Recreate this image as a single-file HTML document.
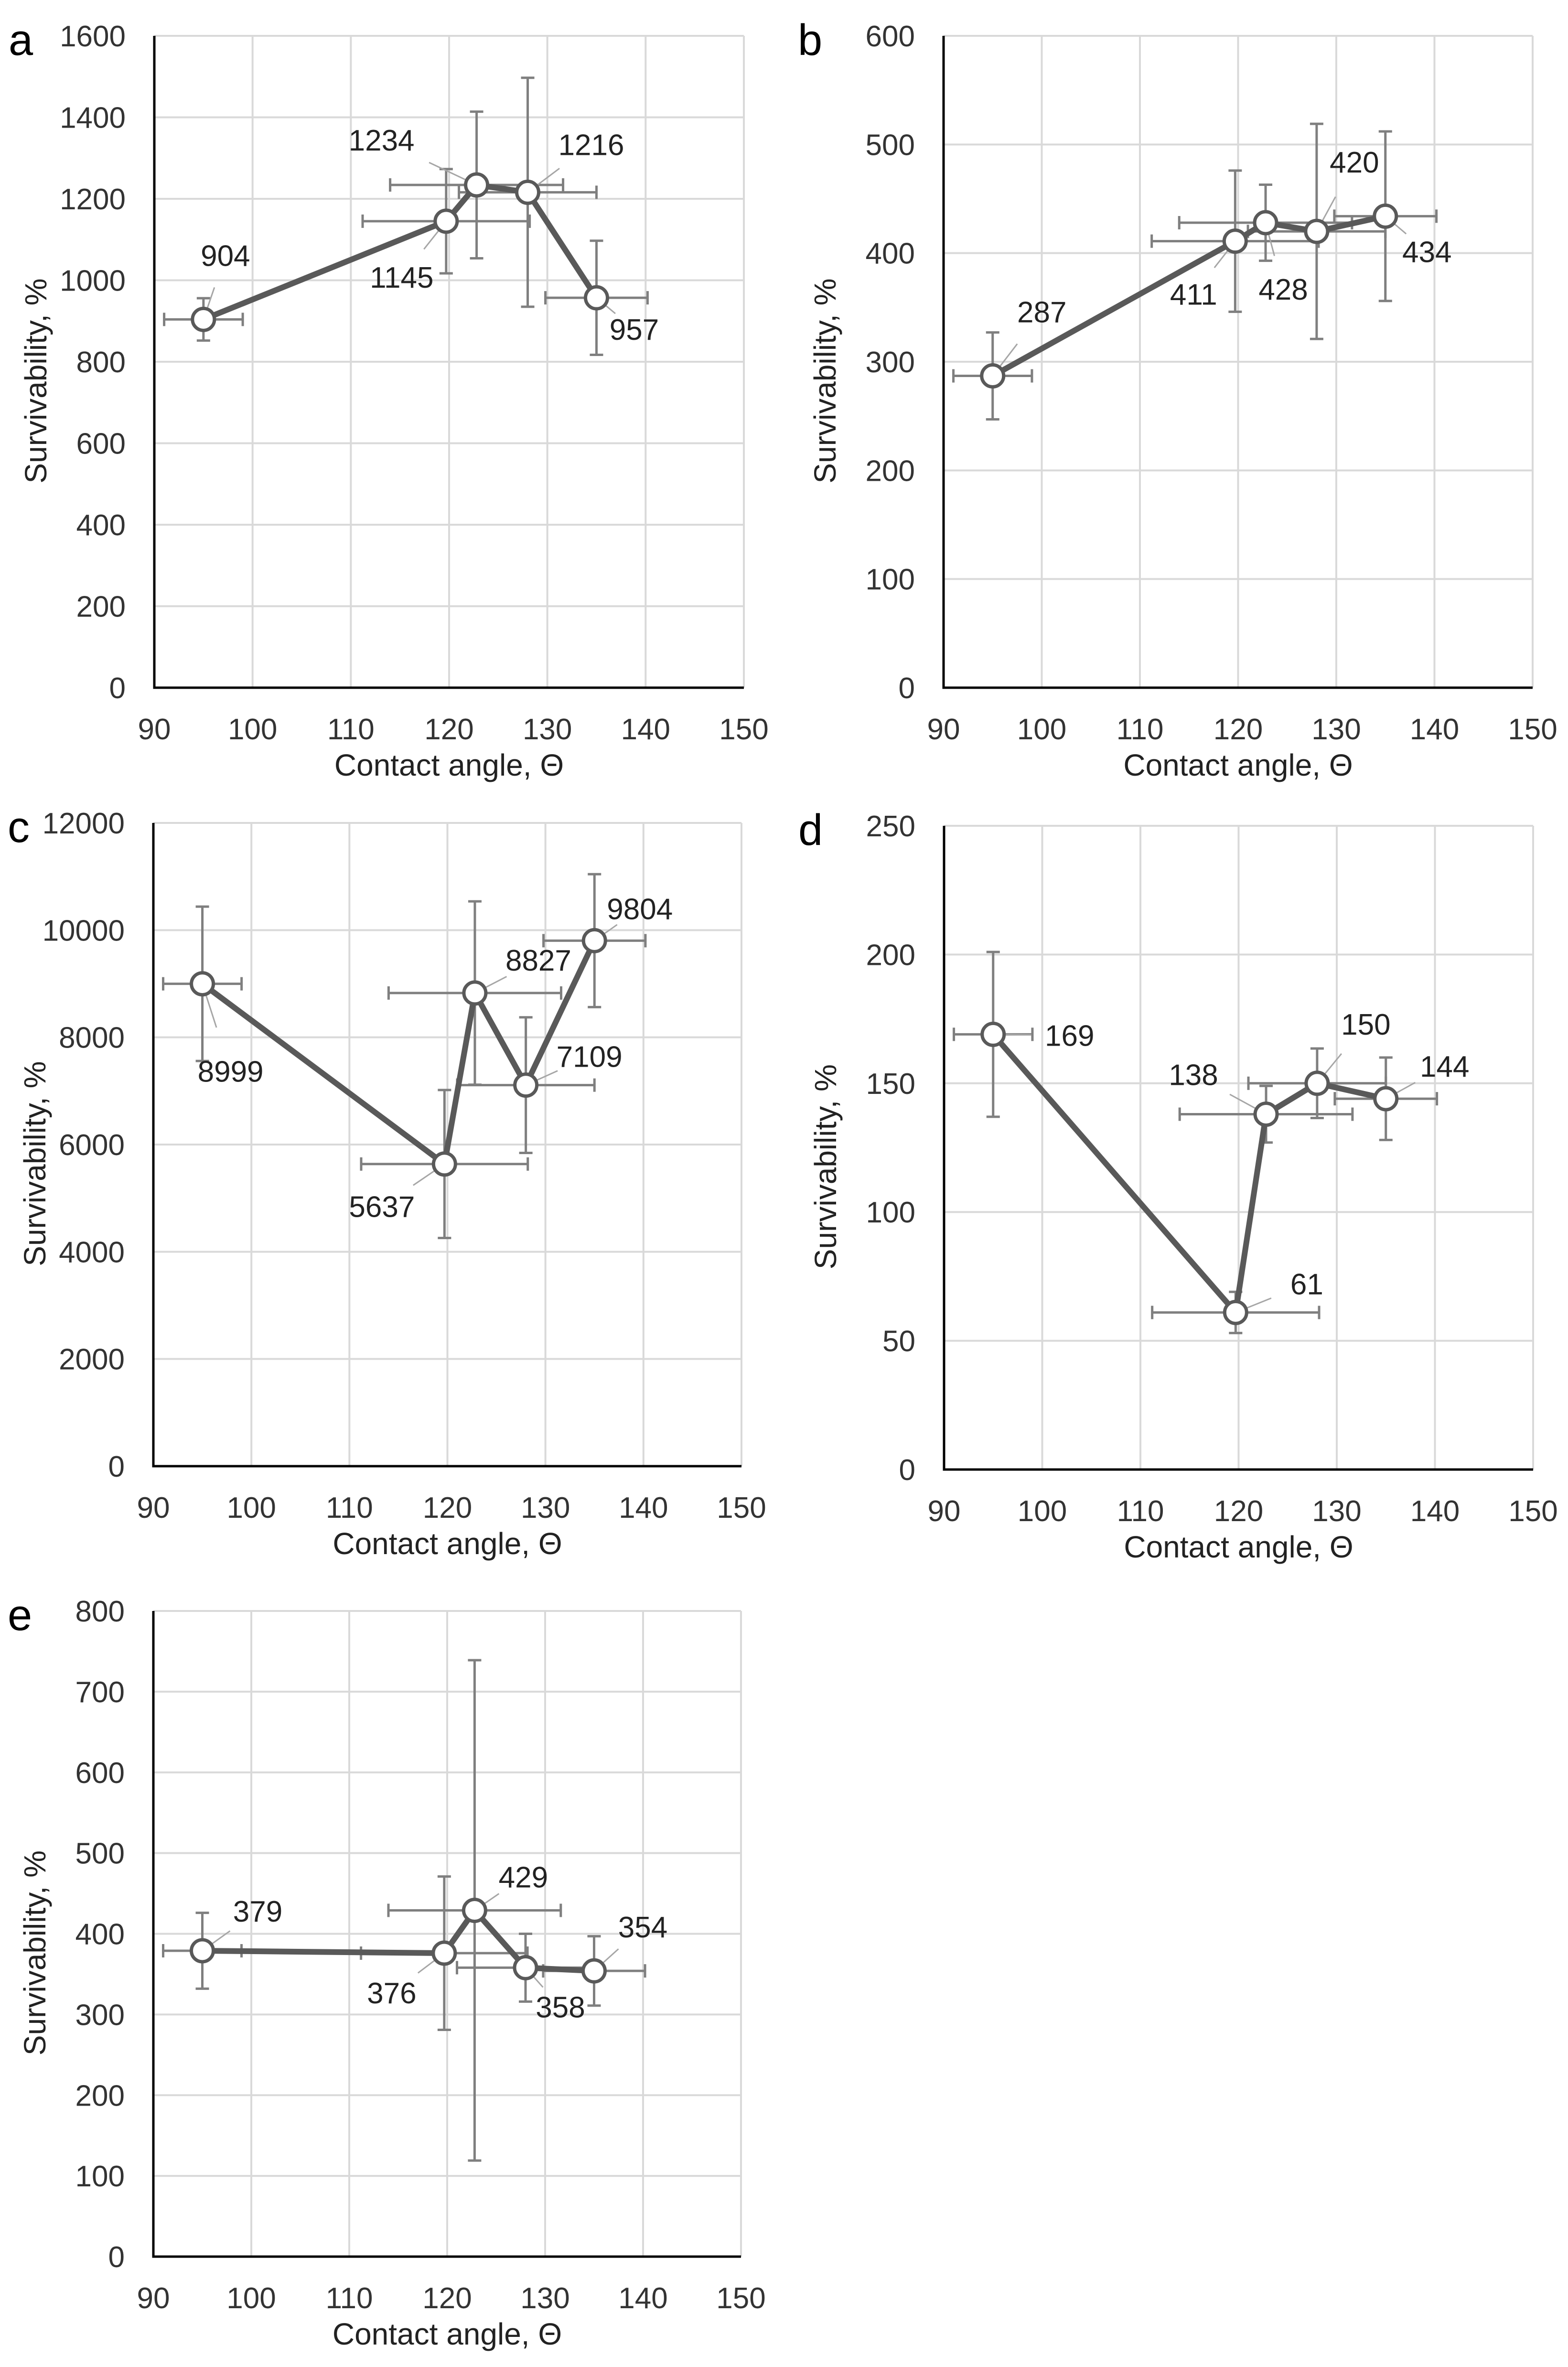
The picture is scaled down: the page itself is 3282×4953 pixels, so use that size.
<!DOCTYPE html>
<html><head><meta charset="utf-8"><style>
html,body{margin:0;padding:0;background:#fff;}
svg{display:block;font-family:"Liberation Sans",Calibri,sans-serif;}
</style></head><body>
<svg id="fig" width="3282" height="4953" viewBox="0 0 3282 4953" xmlns="http://www.w3.org/2000/svg"></svg>
<script>
// shared contact angle categories and horizontal errors
const angles = [95, 119.7, 122.8, 128, 135];
const angleErr = [4, 8.5, 8.8, 7, 5.2];
const xTicks = [90, 100, 110, 120, 130, 140, 150];

// panel a
const aValues = [904, 1145, 1234, 1216, 957];
const aErr = [52, 128, 180, 281, 140];
const aLabels = ["904", "1145", "1234", "1216", "957"];
const aTicks = [0, 200, 400, 600, 800, 1000, 1200, 1400, 1600];
// panel b
const bValues = [287, 411, 428, 420, 434];
const bErr = [40, 65, 35, 99, 78];
const bLabels = ["287", "411", "428", "420", "434"];
const bTicks = [0, 100, 200, 300, 400, 500, 600];
// panel c
const cValues = [8999, 5637, 8827, 7109, 9804];
const cErr = [1440, 1380, 1710, 1265, 1240];
const cLabels = ["8999", "5637", "8827", "7109", "9804"];
const cTicks = [0, 2000, 4000, 6000, 8000, 10000, 12000];
// panel d
const dValues = [169, 61, 138, 150, 144];
const dErr = [32, 8, 11, 13.5, 16];
const dLabels = ["169", "61", "138", "150", "144"];
const dTicks = [0, 50, 100, 150, 200, 250];
// panel e
const eValues = [379, 376, 429, 358, 354];
const eErr = [47, 95, 310, 42, 43];
const eLabels = ["379", "376", "429", "358", "354"];
const eTicks = [0, 100, 200, 300, 400, 500, 600, 700, 800];

// layout (pixel geometry, not data)
const panels = [
  {id:"a", vals:aValues, err:aErr, labels:aLabels, ticks:aTicks, box:[323,75,1557,1439],
   off:[[46,-134],[-93,117],[-199,-94],[133,-100],[79,66]]},
  {id:"b", vals:bValues, err:bErr, labels:bLabels, ticks:bTicks, box:[1975,75,3208,1439],
   off:[[103,-134],[-87,111],[37,139],[79,-145],[87,74]]},
  {id:"c", vals:cValues, err:cErr, labels:cLabels, ticks:cTicks, box:[321,1722,1552,3068],
   off:[[59,183],[-131,89],[133,-69],[133,-60],[95,-67]]},
  {id:"d", vals:dValues, err:dErr, labels:dLabels, ticks:dTicks, box:[1976,1728,3209,3075],
   off:[[160,2],[149,-60],[-152,-83],[102,-124],[123,-68]]},
  {id:"e", vals:eValues, err:eErr, labels:eLabels, ticks:eTicks, box:[321,3371,1551,4722],
   off:[[116,-83],[-110,83],[102,-70],[73,82],[102,-92]]}
];

const NS = "http://www.w3.org/2000/svg";
const svg = document.getElementById("fig");
function mk(tag, attrs, parent){
  const el = document.createElementNS(NS, tag);
  for (const k in attrs) el.setAttribute(k, attrs[k]);
  parent.appendChild(el);
  return el;
}

panels.forEach(p => {
  const [L, T, R, B] = p.box;
  const yMax = p.ticks[p.ticks.length - 1];
  const xs = v => L + (v - 90) / 60 * (R - L);
  const ys = v => B - v / yMax * (B - T);

  const g = mk("g", {}, svg);
  
  

  xTicks.forEach(t => {
    if (t === 90) return;
    const l = mk("line", {x1:xs(t), x2:xs(t), y1:T, y2:B, stroke:"#d9d9d9", "stroke-width":4}, g);
    
    
  });
  p.ticks.forEach(t => {
    if (t === 0) return;
    const l = mk("line", {x1:L, x2:R, y1:ys(t), y2:ys(t), stroke:"#d9d9d9", "stroke-width":4}, g);
    
    
  });
  const ax = mk("path", {d:`M${L},${T} L${L},${B} L${R},${B}`, fill:"none", stroke:"#000", "stroke-width":5}, g);
  
  

  xTicks.forEach(t => {
    const tx = mk("text", {x:xs(t), y:B+108, "text-anchor":"middle", "font-size":62, fill:"#333"}, g);
    tx.textContent = t;
    
    
  });
  p.ticks.forEach(t => {
    const tx = mk("text", {x:L-60, y:ys(t)+22, "text-anchor":"end", "font-size":62, fill:"#333"}, g);
    tx.textContent = t;
    
    
  });
  const xt = mk("text", {x:(L+R)/2, y:B+184, "text-anchor":"middle", "font-size":64, fill:"#222"}, g);
  xt.textContent = "Contact angle, Θ";
  
  
  const cy = (T+B)/2 + 40, cx = L - 226;
  const yt = mk("text", {x:cx, y:cy, "text-anchor":"middle", "font-size":64, fill:"#222", transform:`rotate(-90 ${cx} ${cy})`}, g);
  yt.textContent = "Survivability, %";
  
  
  const lt = mk("text", {x:L-305, y:T+40, "font-size":92, fill:"#000"}, g);
  lt.textContent = p.id;
  
  

  const cap = 14;
  angles.forEach((a, i) => {
    const px = xs(a), py = ys(p.vals[i]);
    const y1 = ys(p.vals[i] + p.err[i]), y2 = ys(p.vals[i] - p.err[i]);
    const x1 = xs(a - angleErr[i]), x2 = xs(a + angleErr[i]);
    const d = `M${px},${y1} L${px},${y2} M${px-cap},${y1} L${px+cap},${y1} M${px-cap},${y2} L${px+cap},${y2}` +
              ` M${x1},${py} L${x2},${py} M${x1},${py-cap} L${x1},${py+cap} M${x2},${py-cap} L${x2},${py+cap}`;
    const e = mk("path", {d:d, fill:"none", stroke:"#7f7f7f", "stroke-width":5}, g);
    
    
  });
  const pts = angles.map((a, i) => xs(a) + "," + ys(p.vals[i])).join(" ");
  const pl = mk("polyline", {points:pts, fill:"none", stroke:"#595959", "stroke-width":12, "stroke-linejoin":"round"}, g);
  
  
  angles.forEach((a, i) => {
    const px = xs(a), py = ys(p.vals[i]);
    const [dx, dy] = p.off[i];
    const ld = mk("line", {x1:px, y1:py, x2:px+dx*0.5, y2:py+dy*0.5, stroke:"#a6a6a6", "stroke-width":3}, g);
    
    
    const c = mk("circle", {cx:px, cy:py, r:23, fill:"#fff", stroke:"#595959", "stroke-width":7}, g);
    
    
    const lb = mk("text", {x:px+dx, y:py+dy+22, "text-anchor":"middle", "font-size":62, fill:"#222"}, g);
    lb.textContent = p.labels[i];
    
    
  });
});
</script>
</body></html>
